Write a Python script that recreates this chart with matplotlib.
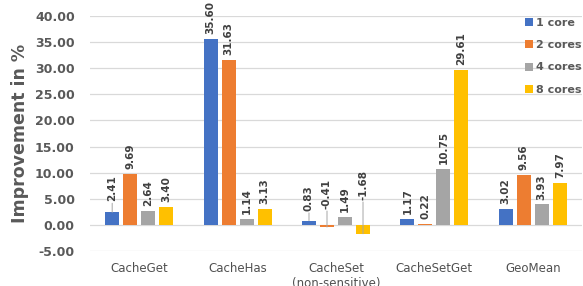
import matplotlib
matplotlib.use("Agg")
import matplotlib.pyplot as plt
from matplotlib.transforms import offset_copy
import numpy as np

categories = ["CacheGet", "CacheHas", "CacheSet\n(non-sensitive)", "CacheSetGet", "GeoMean"]
series_names = ["1 core", "2 cores", "4 cores", "8 cores"]
core1 = [2.41, 35.60, 0.83, 1.17, 3.02]
core2 = [9.69, 31.63, -0.41, 0.22, 9.56]
core4 = [2.64, 1.14, 1.49, 10.75, 3.93]
core8 = [3.40, 3.13, -1.68, 29.61, 7.97]
yticks = [-5, 0, 5, 10, 15, 20, 25, 30, 35, 40]

colors = ["#4472C4", "#ED7D31", "#A5A5A5", "#FFC000"]
series = [core1, core2, core4, core8]

# labels pushed away from their bars (with leader lines): (series, category) -> offset in pt
leader_offsets = {(0, 0): 8.0, (0, 2): 7.0, (1, 2): 11.5, (3, 2): 18.0}

fig = plt.figure(figsize=(5.83, 2.86), dpi=100)
ax = fig.add_axes([90/583, 35/286, 492/583, 235/286])

x = np.arange(len(categories))
bw = 0.142
step = 0.183
for i, (vals, c, name) in enumerate(zip(series, colors, series_names)):
    pos = x + (i - 1.5) * step
    ax.bar(pos, vals, width=bw, color=c, label=name, zorder=3)
    for j, (p, v) in enumerate(zip(pos, vals)):
        base = max(v, 0)
        off = leader_offsets.get((i, j), 3.5)
        ax.annotate(f"{v:.2f}", (p, base), xytext=(0, off), textcoords="offset points",
                    rotation=90, ha="center", va="bottom", fontsize=7.5,
                    fontweight="bold", color="#404040", zorder=4)
        if (i, j) in leader_offsets:
            tr = offset_copy(ax.transData, fig=fig, x=0, y=off - 1.5, units="points")
            ax.annotate("", xy=(p, v), xycoords="data", xytext=(p, base), textcoords=tr,
                        arrowprops=dict(arrowstyle="-", color="#A6A6A6", lw=0.7,
                                        shrinkA=0, shrinkB=0), zorder=4)

ax.set_xlim(-0.5, len(categories) - 0.5)
ax.set_ylim(-5, 40)
ax.set_yticks(yticks)
ax.set_yticklabels([f"{t:.2f}" for t in yticks], fontsize=9, fontweight="bold", color="#595959")
ax.set_xticks(x)
ax.set_xticklabels(categories, fontsize=8.5, color="#505050", va="top")
ax.tick_params(axis="both", length=0)
ax.tick_params(axis="y", pad=11)
ax.tick_params(axis="x", pad=8)
ax.grid(axis="y", color="#D9D9D9", linewidth=0.9, zorder=0)
for s in ax.spines.values():
    s.set_visible(False)
ax.set_ylabel("Improvement in %", fontsize=12.5, fontweight="bold", color="#595959", labelpad=4)

leg = ax.legend(loc="upper right", bbox_to_anchor=(582/583, 1 - 18/286),
                bbox_transform=fig.transFigure, frameon=False,
                borderpad=0, borderaxespad=0,
                handlelength=0.75, handleheight=0.75, handletextpad=0.3,
                labelspacing=1.1, fontsize=8)
for t in leg.get_texts():
    t.set_color("#595959")
    t.set_fontweight("bold")

fig.savefig("out.png", dpi=100)
